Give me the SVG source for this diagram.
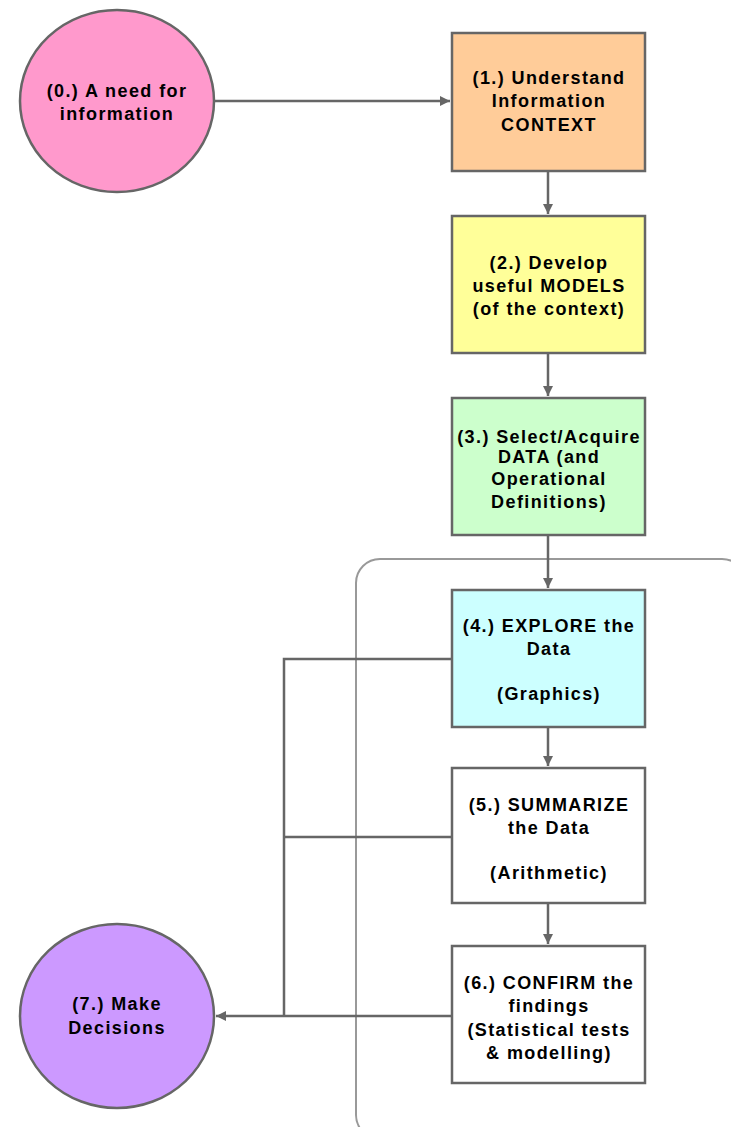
<svg xmlns="http://www.w3.org/2000/svg" width="731" height="1127" viewBox="0 0 731 1127">
<style>
.n{stroke:#666;stroke-width:2.5}
.t{font-family:"Liberation Sans",Arial,sans-serif;font-weight:bold;font-size:18px;letter-spacing:1.4px;text-anchor:middle;fill:#000}
.c{fill:none;stroke:#666;stroke-width:2.5}
</style>
<defs>
<marker id="ah" viewBox="0 0 10 10" refX="10" refY="5" markerWidth="5" markerHeight="4" orient="auto" markerUnits="strokeWidth">
<path d="M0,0 L10,5 L0,10 z" fill="#666"/>
</marker>
</defs>
<rect id="container" x="356" y="559" width="390" height="580" rx="24" fill="none" stroke="#999" stroke-width="2"/>
<g id="connectors">
<line class="c" x1="214" y1="101" x2="450" y2="101" marker-end="url(#ah)"/>
<line class="c" x1="548" y1="171" x2="548" y2="214" marker-end="url(#ah)"/>
<line class="c" x1="548" y1="353" x2="548" y2="396" marker-end="url(#ah)"/>
<line class="c" x1="548" y1="535" x2="548" y2="588" marker-end="url(#ah)"/>
<line class="c" x1="548" y1="727" x2="548" y2="766" marker-end="url(#ah)"/>
<line class="c" x1="548" y1="903" x2="548" y2="944" marker-end="url(#ah)"/>
<polyline class="c" points="452,659 284,659 284,1016"/>
<line class="c" x1="452" y1="837" x2="284" y2="837"/>
<line class="c" x1="452" y1="1016" x2="216" y2="1016" marker-end="url(#ah)"/>
</g>
<g id="node0">
<ellipse class="n" cx="117" cy="101" rx="97" ry="91" fill="#FF99CC"/>
<text class="t" x="117" y="97">(0.) A need for</text>
<text class="t" x="117" y="120">information</text>
</g>
<g id="node1">
<rect class="n" x="452" y="33" width="193" height="138" fill="#FFCC99"/>
<text class="t" x="549" y="84">(1.) Understand</text>
<text class="t" x="549" y="107">Information</text>
<text class="t" x="549" y="131">CONTEXT</text>
</g>
<g id="node2">
<rect class="n" x="452" y="216" width="193" height="137" fill="#FFFF99"/>
<text class="t" x="549" y="269">(2.) Develop</text>
<text class="t" x="549" y="292">useful MODELS</text>
<text class="t" x="549" y="315">(of the context)</text>
</g>
<g id="node3">
<rect class="n" x="452" y="398" width="193" height="137" fill="#CCFFCC"/>
<text class="t" x="549" y="443">(3.) Select/Acquire</text>
<text class="t" x="549" y="463">DATA (and</text>
<text class="t" x="549" y="485">Operational</text>
<text class="t" x="549" y="508">Definitions)</text>
</g>
<g id="node4">
<rect class="n" x="452" y="590" width="193" height="137" fill="#CCFFFF"/>
<text class="t" x="549" y="632">(4.) EXPLORE the</text>
<text class="t" x="549" y="655">Data</text>
<text class="t" x="549" y="700">(Graphics)</text>
</g>
<g id="node5">
<rect class="n" x="452" y="768" width="193" height="135" fill="#FFFFFF"/>
<text class="t" x="549" y="811">(5.) SUMMARIZE</text>
<text class="t" x="549" y="834">the Data</text>
<text class="t" x="549" y="879">(Arithmetic)</text>
</g>
<g id="node6">
<rect class="n" x="452" y="946" width="193" height="137" fill="#FFFFFF"/>
<text class="t" x="549" y="989">(6.) CONFIRM the</text>
<text class="t" x="549" y="1012">findings</text>
<text class="t" x="549" y="1036">(Statistical tests</text>
<text class="t" x="549" y="1059">&amp; modelling)</text>
</g>
<g id="node7">
<ellipse class="n" cx="117" cy="1016" rx="97" ry="92" fill="#CC99FF"/>
<text class="t" x="117" y="1010">(7.) Make</text>
<text class="t" x="117" y="1034">Decisions</text>
</g>
</svg>
